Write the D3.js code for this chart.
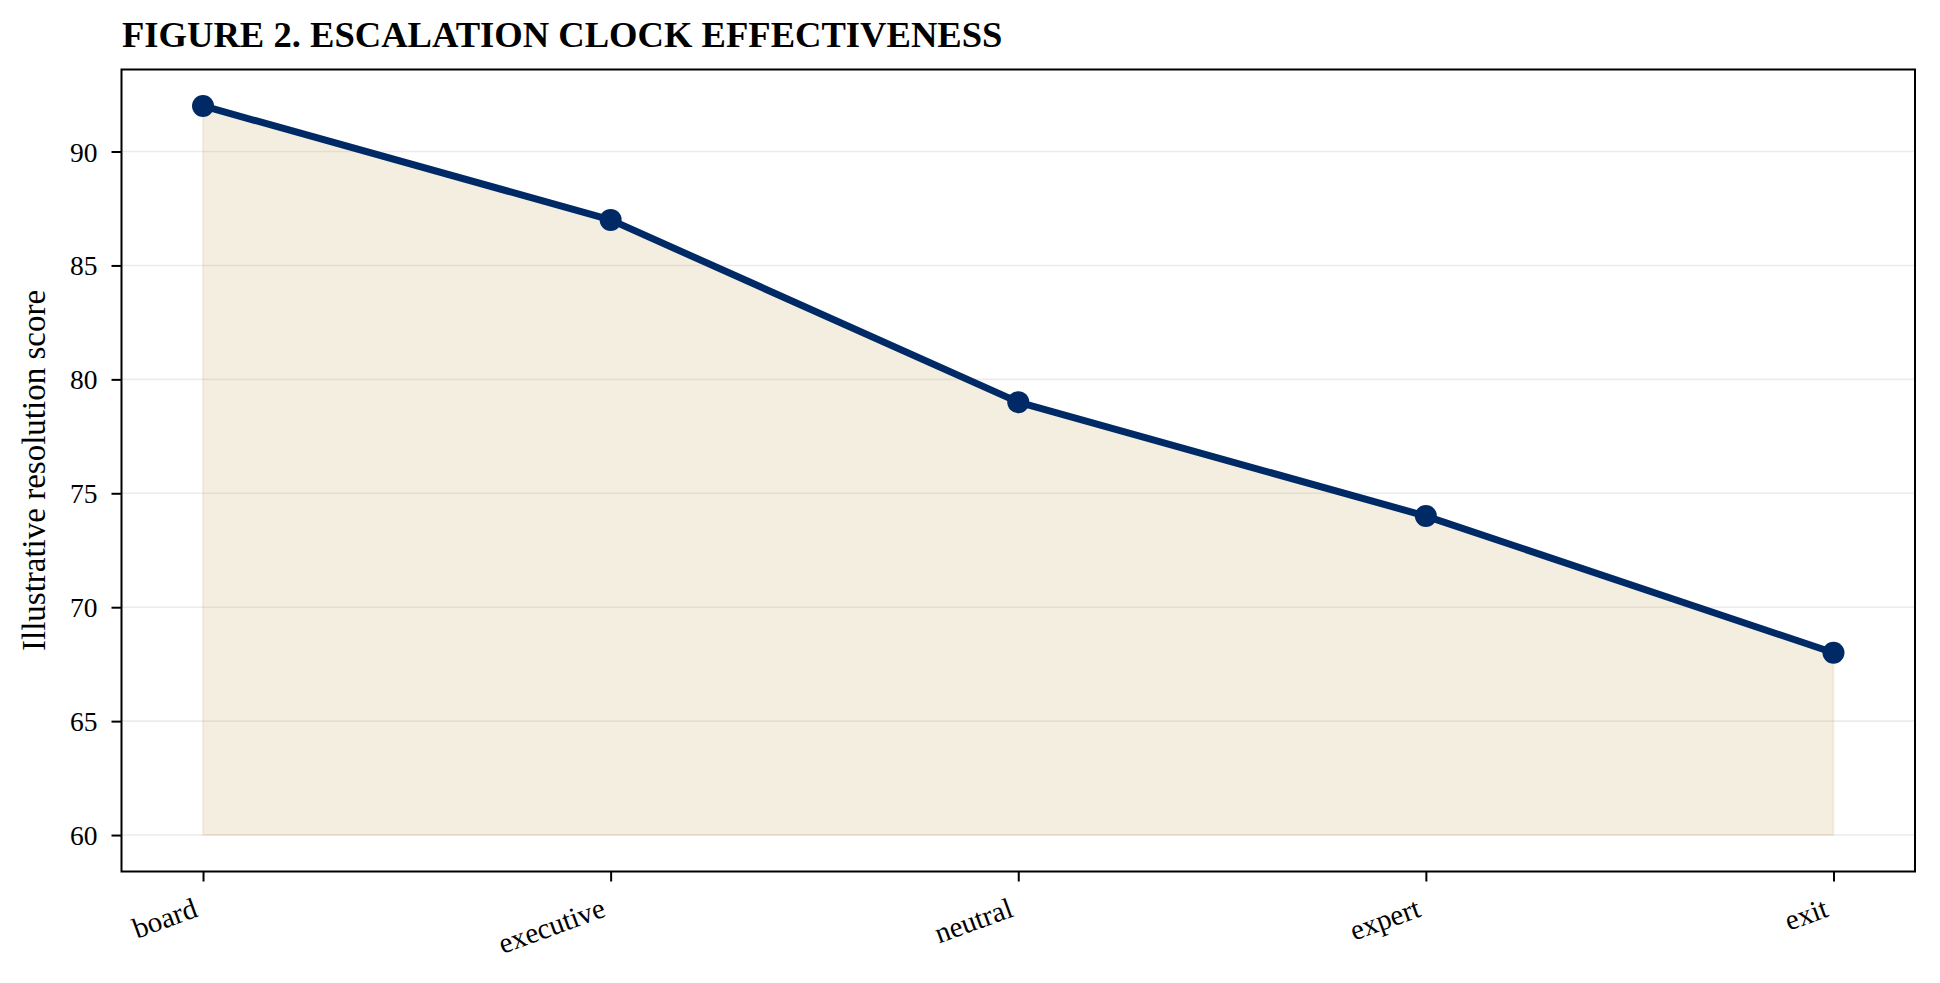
<!DOCTYPE html>
<html>
<head>
<meta charset="utf-8">
<script src="https://cdn.jsdelivr.net/npm/d3@7"></script>
<style>
  html, body { margin: 0; padding: 0; background: #ffffff; }
  svg { display: block; }
  text { font-family: "Liberation Serif", "Times New Roman", Times, serif; fill: #000; }
</style>
</head>
<body>
<svg id="chart" width="1940" height="983"></svg>
<script>
const categories = ["board", "executive", "neutral", "expert", "exit"];
const scores = [92, 87, 79, 74, 68];
const yTicks = [60, 65, 70, 75, 80, 85, 90];
const baseline = 60;
const titleText = "FIGURE 2. ESCALATION CLOCK EFFECTIVENESS";
const yLabel = "Illustrative resolution score";

const W = 1940, H = 983;
const m = { left: 121.5, right: 1915, top: 69.5, bottom: 871.5 };
const svg = d3.select("#chart");

const x = d3.scaleLinear().domain([-0.2, categories.length - 1 + 0.2]).range([m.left, m.right]);
const y = d3.scaleLinear().domain([58.4, 93.6]).range([m.bottom, m.top]);

// grid
svg.append("g").selectAll("line").data(yTicks).join("line")
  .attr("x1", m.left).attr("x2", m.right)
  .attr("y1", d => y(d)).attr("y2", d => y(d))
  .attr("stroke", "#ebebeb").attr("stroke-width", 1.6);

const data = categories.map((c, i) => ({ c, i, v: scores[i] }));

// area fill
const area = d3.area().x(d => x(d.i)).y0(y(baseline)).y1(d => y(d.v));
svg.append("path").datum(data).attr("d", area)
  .attr("fill", "rgb(200,168,98)").attr("fill-opacity", 0.2)
  .attr("stroke", "rgb(200,168,98)").attr("stroke-opacity", 0.15).attr("stroke-width", 2);

// line
const line = d3.line().x(d => x(d.i)).y(d => y(d.v));
svg.append("path").datum(data).attr("d", line)
  .attr("fill", "none").attr("stroke", "#002a66").attr("stroke-width", 7)
  .attr("stroke-linejoin", "round");

svg.append("g").selectAll("circle").data(data).join("circle")
  .attr("cx", d => x(d.i)).attr("cy", d => y(d.v)).attr("r", 11)
  .attr("fill", "#002a66");

// frame
svg.append("rect").attr("x", m.left).attr("y", m.top)
  .attr("width", m.right - m.left).attr("height", m.bottom - m.top)
  .attr("fill", "none").attr("stroke", "#000").attr("stroke-width", 2);

// y axis ticks
const yAxis = d3.axisLeft(y).tickValues(yTicks).tickSize(10).tickPadding(14).tickFormat(d3.format("d"));
const gy = svg.append("g").attr("transform", `translate(${m.left},0)`).call(yAxis);
gy.select(".domain").remove();
gy.selectAll(".tick line").attr("stroke", "#000").attr("stroke-width", 2);
gy.selectAll(".tick text").attr("font-size", 27.5).attr("dy", null)
  .attr("dominant-baseline", "central").style("font-family", '"Liberation Serif", serif').attr("fill", "#000");

// x axis ticks
const xAxis = d3.axisBottom(x).tickValues(categories.map((c, i) => i)).tickSize(10).tickFormat(i => categories[i]);
const gx = svg.append("g").attr("transform", `translate(0,${m.bottom})`).call(xAxis);
gx.select(".domain").remove();
gx.selectAll(".tick line").attr("stroke", "#000").attr("stroke-width", 2);
const ang = -20 * Math.PI / 180;
gx.selectAll(".tick text").each(function() {
  const t = d3.select(this);
  t.attr("font-size", 29).attr("y", 0).attr("x", 0).attr("dy", null)
   .attr("text-anchor", "end").style("font-family", '"Liberation Serif", serif').attr("fill", "#000");
  const b = this.getBBox();
  const corners = [[b.x, b.y], [b.x + b.width, b.y], [b.x, b.y + b.height], [b.x + b.width, b.y + b.height]]
    .map(([px, py]) => [px * Math.cos(ang) - py * Math.sin(ang), px * Math.sin(ang) + py * Math.cos(ang)]);
  const maxX = d3.max(corners, c => c[0]);
  const minY = d3.min(corners, c => c[1]);
  const tx = -maxX - 2, ty = 10 + 10 - minY;
  t.attr("transform", `translate(${tx},${ty}) rotate(-20)`);
});

// title
svg.append("text").attr("x", 122).attr("y", 47)
  .attr("font-size", 36.6).attr("font-weight", "bold").text(titleText);

// y label
svg.append("text")
  .attr("transform", `translate(45,${(m.top + m.bottom) / 2}) rotate(-90)`)
  .attr("text-anchor", "middle").attr("font-size", 33).text(yLabel);
</script>
</body>
</html>
